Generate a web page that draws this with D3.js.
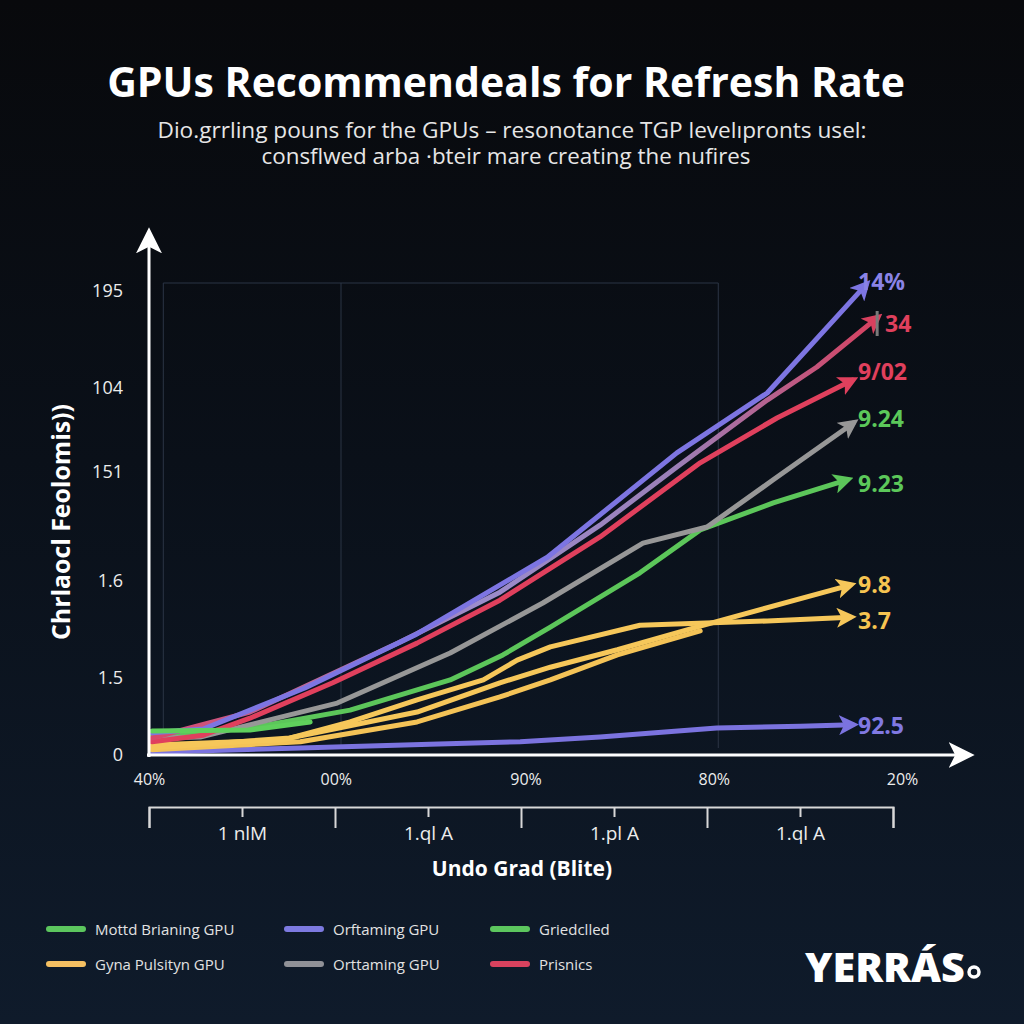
<!DOCTYPE html>
<html><head><meta charset="utf-8">
<script src="https://cdn.jsdelivr.net/npm/d3@7"></script>
<style>html,body{margin:0;padding:0;background:#0b0f16;}svg{display:block;}</style>
</head><body>
<svg id="chart" width="1024" height="1024"></svg>
<script>
// ---------- DATA ----------
const titleText = "GPUs Recommendeals for Refresh Rate";
const subtitleLines = ["Dio.grrling pouns for the GPUs \u2013 resonotance TGP level\u0131pronts usel:", "consflwed arba \u00b7bteir mare creating the nufires"];
const yTitle = "Chrlaocl Feolomis))";
const xTitle = "Undo Grad  (Blite)";

const yTickValues = [0, 16.3, 36.9, 60.0, 77.8, 98.3];
const yTickLabels = ["0", "1.5", "1.6", "151", "104", "195"];
const xTickValues = [0, 24.8, 50, 75, 100];
const xTickLabels = ["40%", "00%", "90%", "80%", "20%"];
const groupLabels = ["1 nlM", "1.ql A", "1.pl A", "1.ql A"];
const gridX = [1.9, 25.5, 75.6];
const gridTopY = 100;

const blueX = [0.4, 7.2, 20.7, 35.3, 52.9, 70.1, 82.1, 95.2];
const blueY = [4.7, 5.5, 14.2, 25.4, 41.9, 64.0, 76.7, 99.6];
const mauveX = [0.4, 13.4, 33.3, 46.6, 59.9, 70.1, 82.1, 88.7, 96.7];
const mauveY = [3.6, 9.1, 23.9, 34.5, 48.7, 61.0, 75.2, 82.2, 92.6];
const redX = [0.4, 7.2, 13.4, 24.4, 35.6, 46.6, 59.9, 73.2, 83.4, 93.4];
const redY = [2.8, 4.2, 7.8, 15.3, 23.7, 32.8, 46.2, 61.9, 71.4, 79.4];
const grayX = [0.4, 6.8, 25.0, 40.0, 52.3, 65.6, 74.1, 82.9, 93.5];
const grayY = [3.6, 3.8, 11.0, 21.6, 32.2, 44.9, 48.3, 58.3, 70.3];
const greenX = [0.4, 13.4, 26.7, 40.0, 47.0, 53.3, 65.2, 73.2, 82.9, 92.7];
const greenY = [4.2, 5.7, 9.5, 15.9, 21.2, 27.1, 38.6, 47.7, 53.4, 58.3];
const green2X = [0.4, 13.4, 21.4];
const green2Y = [5.1, 5.3, 7.0];
const yellowAX = [0.4, 17.8, 26.7, 35.6, 44.4, 48.9, 53.3, 65.2, 82.1, 93.1];
const yellowAY = [2.1, 3.2, 7.0, 11.7, 15.9, 20.1, 22.9, 27.5, 28.4, 29.2];
const yellowBX = [0.4, 18.7, 35.6, 46.6, 53.3, 62.2, 73.2, 93.1];
const yellowBY = [1.5, 3.6, 9.1, 15.3, 18.6, 22.3, 27.3, 36.0];
const yellowCX = [0.4, 20.1, 35.6, 46.6, 53.3, 62.2, 73.2];
const yellowCY = [1.1, 2.8, 7.0, 12.3, 15.9, 21.2, 26.3];
const purpleX = [0.4, 20.1, 37.3, 49.3, 59.9, 75.4, 86.5, 93.4];
const purpleY = [0.6, 1.5, 2.3, 2.8, 3.8, 5.7, 6.1, 6.4];

const endLabels = ["14%", "34", "9/02", "9.24", "9.23", "9.8", "3.7", "92.5"];

const legendNames = ["Mottd Brianing GPU", "Orftaming GPU", "Griedclled", "Gyna Pulsityn GPU", "Orttaming GPU", "Prisnics"];
const logoText = "YERR\u00c1S";

// ---------- SETUP ----------
const svg = d3.select("#chart");
const W = 1024, H = 1024;
const defs = svg.append("defs");
const bg = defs.append("linearGradient").attr("id", "bg").attr("x1", 0).attr("y1", 0).attr("x2", 0).attr("y2", 1);
bg.append("stop").attr("offset", "0%").attr("stop-color", "#08090c");
bg.append("stop").attr("offset", "45%").attr("stop-color", "#0a1019");
bg.append("stop").attr("offset", "100%").attr("stop-color", "#0f1b2b");
svg.append("rect").attr("width", W).attr("height", H).attr("fill", "url(#bg)");

const font = "'Open Sans', 'Noto Sans', sans-serif";
function fit(sel, w) {
  const n = sel.node(); const cur = n.getComputedTextLength();
  const fs = parseFloat(sel.attr("font-size"));
  sel.attr("font-size", fs * w / cur);
}
function squeeze(sel, w) {
  sel.attr("textLength", w).attr("lengthAdjust", "spacingAndGlyphs");
}

const x = d3.scaleLinear().domain([0, 100]).range([149, 902]);
const y = d3.scaleLinear().domain([0, 100]).range([755, 283]);
const xg = d3.scaleLinear().domain([0, 4]).range([149, 893]);

// ---------- TITLES ----------
const t = svg.append("text").attr("x", 506).attr("y", 97).attr("text-anchor", "middle")
  .attr("font-family", font).attr("font-weight", 700).attr("font-size", 36).attr("fill", "#ffffff").text(titleText);
fit(t, 798);
const s1 = svg.append("text").attr("x", 512).attr("y", 138).attr("text-anchor", "middle")
  .attr("font-family", font).attr("font-size", 21).attr("fill", "#e6e6e6").text(subtitleLines[0]);
squeeze(s1, 709);
const s2 = svg.append("text").attr("x", 506).attr("y", 164).attr("text-anchor", "middle")
  .attr("font-family", font).attr("font-size", 21).attr("fill", "#e6e6e6").text(subtitleLines[1]);
squeeze(s2, 489);

// ---------- GRID ----------
const grid = svg.append("g").attr("stroke", "#2b3545").attr("stroke-width", 1).attr("fill", "none");
grid.selectAll("line.v").data(gridX).join("line")
  .attr("x1", d => x(d)).attr("x2", d => x(d)).attr("y1", y(gridTopY)).attr("y2", 748);
grid.append("line").attr("x1", x(gridX[0])).attr("x2", x(gridX[2])).attr("y1", y(gridTopY)).attr("y2", y(gridTopY));

// ---------- MARKERS ----------
function marker(id, color, size) {
  defs.append("marker").attr("id", id).attr("viewBox", "0 0 12 12")
    .attr("refX", 8).attr("refY", 6).attr("markerWidth", size).attr("markerHeight", size)
    .attr("markerUnits", "userSpaceOnUse").attr("orient", "auto")
    .append("path").attr("d", "M0,0L12,6L0,12L3,6Z").attr("fill", color);
}

// ---------- SERIES ----------
const series = [
  { xs: purpleX, ys: purpleY, color: "#7b73df", arrow: true, label: endLabels[7], lc: "#8079e2", dy: 0 },
  { xs: yellowCX, ys: yellowCY, color: "#f4c357", arrow: false },
  { xs: yellowBX, ys: yellowBY, color: "#f6c75a", arrow: true, label: endLabels[5], lc: "#f6c451", dy: -1 },
  { xs: yellowAX, ys: yellowAY, color: "#f6c75a", arrow: true, label: endLabels[6], lc: "#f6c451", dy: 3 },
  { xs: greenX, ys: greenY, color: "#5cc65a", arrow: true, label: endLabels[4], lc: "#5cc85a", dy: 3 },
  { xs: grayX, ys: grayY, color: "#979797", arrow: true, label: endLabels[3], lc: "#5cc85a", dy: -5 },
  { xs: redX, ys: redY, color: "#e0405d", arrow: true, label: endLabels[2], lc: "#e0405d", dy: -9 },
  { xs: mauveX, ys: mauveY, color: "url(#mauveGrad)", arrowColor: "#d8405e", arrow: true, label: endLabels[1], lc: "#e0405d", dy: 5, lx: 885 },
  { xs: blueX, ys: blueY, color: "#7d75e2", arrow: true, label: endLabels[0], lc: "#8a83e6", dy: -4 },
  { xs: green2X, ys: green2Y, color: "#5fd05c", arrow: false }
];

const mg = defs.append("linearGradient").attr("id", "mauveGrad").attr("gradientUnits", "userSpaceOnUse")
  .attr("x1", x(0)).attr("y1", 0).attr("x2", x(97)).attr("y2", 0);
mg.append("stop").attr("offset", "0%").attr("stop-color", "#d9466a");
mg.append("stop").attr("offset", "45%").attr("stop-color", "#9c8ccb");
mg.append("stop").attr("offset", "72%").attr("stop-color", "#9a7fb8");
mg.append("stop").attr("offset", "100%").attr("stop-color", "#d8405e");

const line = d3.line().x(d => x(d[0])).y(d => y(d[1])).curve(d3.curveLinear);
const lg = svg.append("g");
series.forEach((s, i) => {
  const pts = s.xs.map((v, j) => [v, s.ys[j]]);
  const p = lg.append("path").datum(pts).attr("d", line).attr("fill", "none")
    .attr("stroke", s.color).attr("stroke-width", 5).attr("stroke-linejoin", "round").attr("stroke-linecap", "round");
  if (s.arrow) {
    marker("m" + i, s.arrowColor || s.color, 20);
    p.attr("marker-end", "url(#m" + i + ")");
  }
});

// gray bar next to "34"
svg.append("line").attr("x1", x(mauveX[mauveX.length - 1]) ).attr("x2", x(mauveX[mauveX.length - 1]))
  .attr("y1", 311).attr("y2", 336).attr("stroke", "#7a7a7a").attr("stroke-width", 3);

// end labels
series.filter(s => s.label).forEach(s => {
  const lx = s.lx || 858;
  svg.append("text").attr("x", lx).attr("y", y(s.ys[s.ys.length - 1]) + s.dy)
    .attr("dominant-baseline", "central").attr("font-family", font).attr("font-weight", 700)
    .attr("font-size", 23).attr("fill", s.lc).text(s.label);
});

// ---------- AXES ----------
marker("axArrow", "#ffffff", 26);
svg.append("line").attr("x1", 149).attr("x2", 149).attr("y1", 757).attr("y2", 236)
  .attr("stroke", "#fff").attr("stroke-width", 3).attr("marker-end", "url(#axArrow)");
svg.append("line").attr("x1", 147).attr("x2", 966).attr("y1", 755).attr("y2", 755)
  .attr("stroke", "#fff").attr("stroke-width", 3).attr("marker-end", "url(#axArrow)");

const yAxis = d3.axisLeft(y).tickValues(yTickValues).tickFormat((d, i) => yTickLabels[i]).tickSize(0).tickPadding(26);
const ya = svg.append("g").attr("transform", "translate(149,0)").call(yAxis);
ya.select(".domain").remove();
ya.selectAll("text").attr("font-family", font).attr("font-size", 18).attr("fill", "#ececec");

const xAxis = d3.axisBottom(x).tickValues(xTickValues).tickFormat((d, i) => xTickLabels[i]).tickSize(0).tickPadding(19);
const xa = svg.append("g").attr("transform", "translate(0,755)").call(xAxis);
xa.select(".domain").remove();
xa.selectAll("text").attr("font-family", font).attr("font-size", 16).attr("fill", "#ececec");

// bracket axis
const major = d3.axisBottom(xg).tickValues([0, 1, 2, 3, 4]).tickFormat("").tickSize(21).tickSizeOuter(21);
const ma = svg.append("g").attr("transform", "translate(0,807)").call(major);
ma.selectAll("path, line").attr("stroke", "#d8d8d8").attr("stroke-width", 2);
const minor = d3.axisBottom(xg).tickValues([0.5, 1.5, 2.5, 3.5]).tickFormat((d, i) => groupLabels[i]).tickSize(10).tickPadding(10);
const mi = svg.append("g").attr("transform", "translate(0,807)").call(minor);
mi.select(".domain").remove();
mi.selectAll("line").attr("stroke", "#d8d8d8").attr("stroke-width", 2);
mi.selectAll("text").attr("font-family", font).attr("font-size", 19).attr("fill", "#ececec");

// axis titles
svg.append("text").attr("x", 522).attr("y", 876).attr("text-anchor", "middle")
  .attr("font-family", font).attr("font-weight", 700).attr("font-size", 21).attr("fill", "#ffffff").text(xTitle);
const yt = svg.append("text").attr("transform", "translate(70,522) rotate(-90)").attr("text-anchor", "middle")
  .attr("font-family", font).attr("font-weight", 700).attr("font-size", 21).attr("fill", "#ffffff").text(yTitle);
fit(yt, 236);

// ---------- LEGEND ----------
const legendColors = ["#5cc65e", "#7d7ae0", "#5cc65e", "#f5c062", "#909197", "#d9425e"];
const colX = [47, 285, 491];
const rowY = [929, 964];
const leg = svg.append("g");
legendNames.forEach((n, i) => {
  const cx = colX[i % 3], cy = rowY[Math.floor(i / 3)];
  leg.append("line").attr("x1", cx + 2).attr("x2", cx + 36).attr("y1", cy).attr("y2", cy)
    .attr("stroke", legendColors[i]).attr("stroke-width", 6).attr("stroke-linecap", "round");
  leg.append("text").attr("x", cx + 48).attr("y", cy).attr("dominant-baseline", "central")
    .attr("font-family", font).attr("font-size", 15).attr("fill", "#e2e2e2").text(n);
});

// ---------- LOGO ----------
const lt = svg.append("text").attr("x", 805).attr("y", 982).attr("font-family", font).attr("font-weight", 800)
  .attr("font-size", 34).attr("fill", "#ffffff").text(logoText);
fit(lt, 160);
svg.append("circle").attr("cx", 974).attr("cy", 972).attr("r", 5).attr("fill", "none").attr("stroke", "#fff").attr("stroke-width", 3.5);
</script>
</body></html>
